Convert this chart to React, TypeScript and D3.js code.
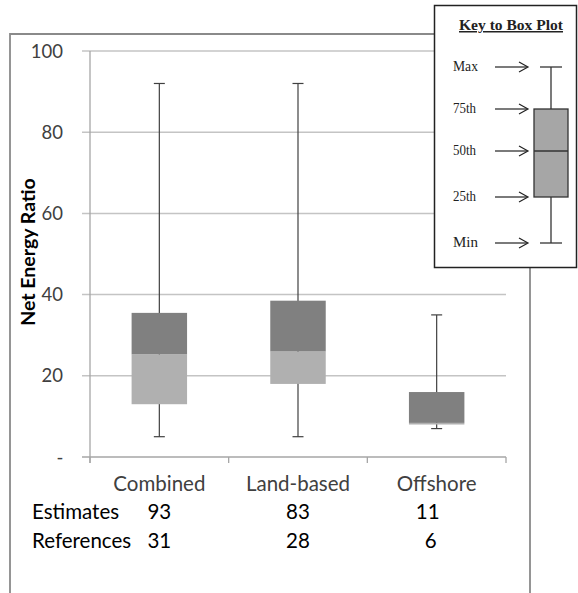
import React from "react";
import * as d3 from "d3";

const categories = ["Combined", "Land-based", "Offshore"];
const maxVals = [92, 92, 35];
const q3Vals = [35.5, 38.5, 16];
const medianVals = [25.3, 26, 8.4];
const q1Vals = [13, 18, 8];
const minVals = [5, 5, 7];
const estimates = [93, 83, 11];
const references = [31, 28, 6];
const yTicks = [0, 20, 40, 60, 80, 100];
const keyLabels = ["Max", "75th", "50th", "25th", "Min"];
const keyValues = [100, 75, 50, 25, 0];

const FONT = "Lato, 'Open Sans', sans-serif";
const SERIF = "'Liberation Serif', 'DejaVu Serif', serif";

export default function App() {
  const y = d3.scaleLinear().domain([0, 100]).range([457, 51]);
  const x = d3.scaleBand<string>().domain(categories).range([90, 506]).padding(0);
  const bw = x.bandwidth() * 0.4;
  const capW = 11;

  const ky = d3.scaleLinear().domain([0, 100]).range([243, 67]);
  const kyBox = d3.scaleLinear().domain([0, 25, 50, 75, 100]).range([243, 197, 151, 109, 67]);
  const kx = 551;

  return (
    <svg
      width={578}
      height={593}
      style={{ position: "absolute", left: 0, top: 0, background: "#fff" }}
    >
      <path d="M10,593 L10,34 L530,34 L530,593" fill="none" stroke="#8a8a8a" strokeWidth={1.8} />

      {yTicks.map((t) => (
        <line
          key={"g" + t}
          x1={82}
          x2={506}
          y1={y(t)}
          y2={y(t)}
          stroke={t === 0 ? "#a6a6a6" : "#c4c4c4"}
          strokeWidth={1.5}
        />
      ))}
      <line x1={90} x2={90} y1={y(100)} y2={463} stroke="#a6a6a6" strokeWidth={1.3} />
      {[...categories.map((c) => x(c) as number), 506].map((v, i) => (
        <line key={"xt" + i} x1={v} x2={v} y1={457} y2={463} stroke="#a6a6a6" strokeWidth={1.3} />
      ))}

      {yTicks.map((t) => (
        <text
          key={"yl" + t}
          x={t === 0 ? 60 : 63}
          y={y(t)}
          dy="0.36em"
          textAnchor={t === 0 ? "middle" : "end"}
          fontFamily={FONT}
          fontSize={18.5}
          fill="#404040"
        >
          {t === 0 ? "-" : String(t)}
        </text>
      ))}

      <text
        transform="translate(35,252) rotate(-90)"
        textAnchor="middle"
        fontFamily={FONT}
        fontWeight="bold"
        fontSize={19.5}
        fill="#000"
      >
        Net Energy Ratio
      </text>

      {categories.map((c, i) => {
        const cx = (x(c) as number) + x.bandwidth() / 2;
        return (
          <g key={c}>
            <line x1={cx} x2={cx} y1={y(maxVals[i])} y2={y(minVals[i])} stroke="#404040" strokeWidth={1.2} />
            <line x1={cx - capW / 2} x2={cx + capW / 2} y1={y(maxVals[i])} y2={y(maxVals[i])} stroke="#404040" strokeWidth={1.2} />
            <line x1={cx - capW / 2} x2={cx + capW / 2} y1={y(minVals[i])} y2={y(minVals[i])} stroke="#404040" strokeWidth={1.2} />
            <rect
              x={cx - bw / 2}
              width={bw}
              y={y(medianVals[i])}
              height={y(q1Vals[i]) - y(medianVals[i])}
              fill="#b0b0b0"
            />
            <rect
              x={cx - bw / 2}
              width={bw}
              y={y(q3Vals[i])}
              height={y(medianVals[i]) - y(q3Vals[i])}
              fill="#808080"
            />
          </g>
        );
      })}

      {categories.map((c, i) => {
        const cx = (x(c) as number) + x.bandwidth() / 2;
        return (
          <g key={"lab" + c} fontFamily={FONT} fontSize={20.5} fill="#000">
            <text x={cx} y={491} textAnchor="middle" fill="#404040">{c}</text>
            <text x={cx - (i === 2 ? 9 : 0)} y={519} textAnchor="middle">{estimates[i]}</text>
            <text x={cx - (i === 2 ? 6 : 0)} y={548} textAnchor="middle">{references[i]}</text>
          </g>
        );
      })}
      <text x={32} y={519} fontFamily={FONT} fontSize={20.5}>Estimates</text>
      <text x={32} y={548} fontFamily={FONT} fontSize={20.5}>References</text>

      <rect x={434.5} y={5.5} width={142} height={262} fill="#fff" stroke="#222" strokeWidth={1.5} />
      <text
        x={511}
        y={30}
        textAnchor="middle"
        fontFamily={SERIF}
        fontWeight="bold"
        fontSize={15}
        textLength={104}
        lengthAdjust="spacingAndGlyphs"
        textDecoration="underline"
        fill="#222"
      >
        Key to Box Plot
      </text>
      {keyLabels.map((l, i) => {
        const yy = kyBox(keyValues[i]);
        return (
          <g key={l}>
            <text x={453} y={yy + 4} fontFamily={SERIF} fontSize={15} fill="#222" textLength={l.length === 3 ? 25 : 23} lengthAdjust="spacingAndGlyphs">{l}</text>
            <line x1={495} x2={527} y1={yy} y2={yy} stroke="#222" strokeWidth={1.2} />
            <path d={`M519,${yy - 5} L528,${yy} L519,${yy + 5}`} fill="none" stroke="#222" strokeWidth={1.2} />
          </g>
        );
      })}
      <line x1={kx} x2={kx} y1={ky(100)} y2={ky(0)} stroke="#333" strokeWidth={1.3} />
      <line x1={kx - 11} x2={kx + 11} y1={ky(100)} y2={ky(100)} stroke="#333" strokeWidth={1.3} />
      <line x1={kx - 11} x2={kx + 11} y1={ky(0)} y2={ky(0)} stroke="#333" strokeWidth={1.3} />
      <rect x={kx - 17} y={kyBox(75)} width={34} height={kyBox(25) - kyBox(75)} fill="#a6a6a6" stroke="#333" strokeWidth={1.3} />
      <line x1={kx - 17} x2={kx + 17} y1={kyBox(50)} y2={kyBox(50)} stroke="#333" strokeWidth={1.3} />
    </svg>
  );
}
